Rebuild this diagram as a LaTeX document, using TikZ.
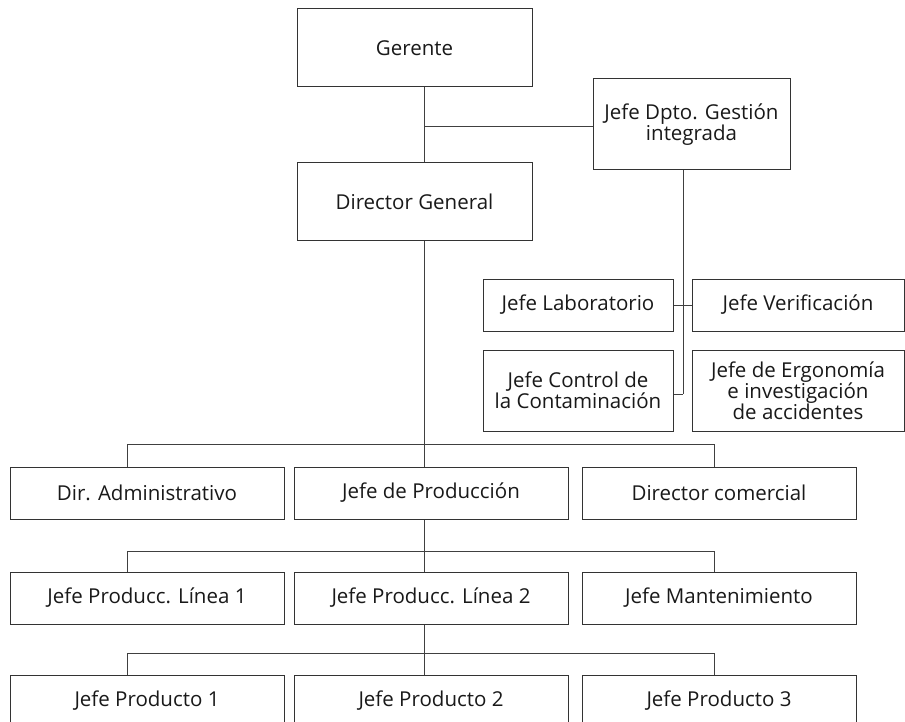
\documentclass[tikz,border=0pt]{standalone}
\usepackage{fontspec}
\setmainfont{Open Sans}
\begin{document}
\begin{tikzpicture}[x=1pt,y=-1pt,
  box/.style={draw=black!80,line width=1pt,inner sep=0pt,align=center,
    font=\fontsize{20.5}{21}\selectfont,text=black!90},
  w235/.style={minimum width=235pt},
  conn/.style={draw=black!75,line width=0.8pt}]
\useasboundingbox[fill=white] (0,0) rectangle (905,722);
% top
\node[box,w235,minimum height=78pt] (ger) at (414.5,48) {Gerente};
\node[box,w235,minimum height=78pt] (dg) at (414.5,202) {Director General};
\node[box,minimum width=197pt,minimum height=91pt] (dpto) at (691.5,124.5) {Jefe Dpto. Gestión\\integrada};
% staff group
\node[box,minimum width=190pt,minimum height=52pt] (lab) at (578,305) {Jefe Laboratorio};
\node[box,minimum width=212pt,minimum height=52pt] (ver) at (798,305) {Jefe Verificación};
\node[box,minimum width=190pt,minimum height=81pt] (con) at (578,390.5) {Jefe Control de\\la Contaminación};
\node[box,minimum width=212pt,minimum height=81pt] (erg) at (798,390.5) {Jefe de Ergonomía\\e investigación\\de accidentes};
% rows
\foreach \n/\x/\y/\t in {adm/147/493/{Dir. Administrativo}, prod/431/493/{Jefe de Producción}, com/719/493/{Director comercial},
  l1/147/598/{Jefe Producc. Línea 1}, l2/431/598/{Jefe Producc. Línea 2}, mant/719/598/{Jefe Mantenimiento},
  p1/147/701/{Jefe Producto 1}, p2/431/701/{Jefe Producto 2}, p3/719/701/{Jefe Producto 3}}
  \node[box,minimum width=274pt,minimum height=52pt] (\n) at (\x,\y) {\t};
% coordinates
\coordinate (sp) at (424,0);
\coordinate (j1) at (424,126);
\coordinate (v2) at (683,0);
\coordinate (v2e) at (683,394);
\coordinate (b1l) at (127,444);
\coordinate (b1r) at (714,444);
\coordinate (b2l) at (127,551);
\coordinate (b2r) at (714,551);
\coordinate (b3l) at (127,653);
\coordinate (b3r) at (714,653);
% connectors
\draw[conn] (ger.south -| sp) -- (dg.north -| sp);
\draw[conn] (j1) -- (j1 -| dpto.west);
\draw[conn] (dpto.south -| v2) -- (v2e);
\draw[conn] (lab.east) -- (ver.west);
\draw[conn] (con.east |- v2e) -- (v2e);
% level 1
\draw[conn] (dg.south -| sp) -- (prod.north -| sp);
\draw[conn] (b1l) -- (b1r);
\draw[conn] (b1l) -- (adm.north -| b1l);
\draw[conn] (b1r) -- (com.north -| b1r);
% level 2
\draw[conn] (prod.south -| sp) -- (l2.north -| sp);
\draw[conn] (b2l) -- (b2r);
\draw[conn] (b2l) -- (l1.north -| b2l);
\draw[conn] (b2r) -- (mant.north -| b2r);
% level 3
\draw[conn] (l2.south -| sp) -- (p2.north -| sp);
\draw[conn] (b3l) -- (b3r);
\draw[conn] (b3l) -- (p1.north -| b3l);
\draw[conn] (b3r) -- (p3.north -| b3r);
\end{tikzpicture}
\end{document}
